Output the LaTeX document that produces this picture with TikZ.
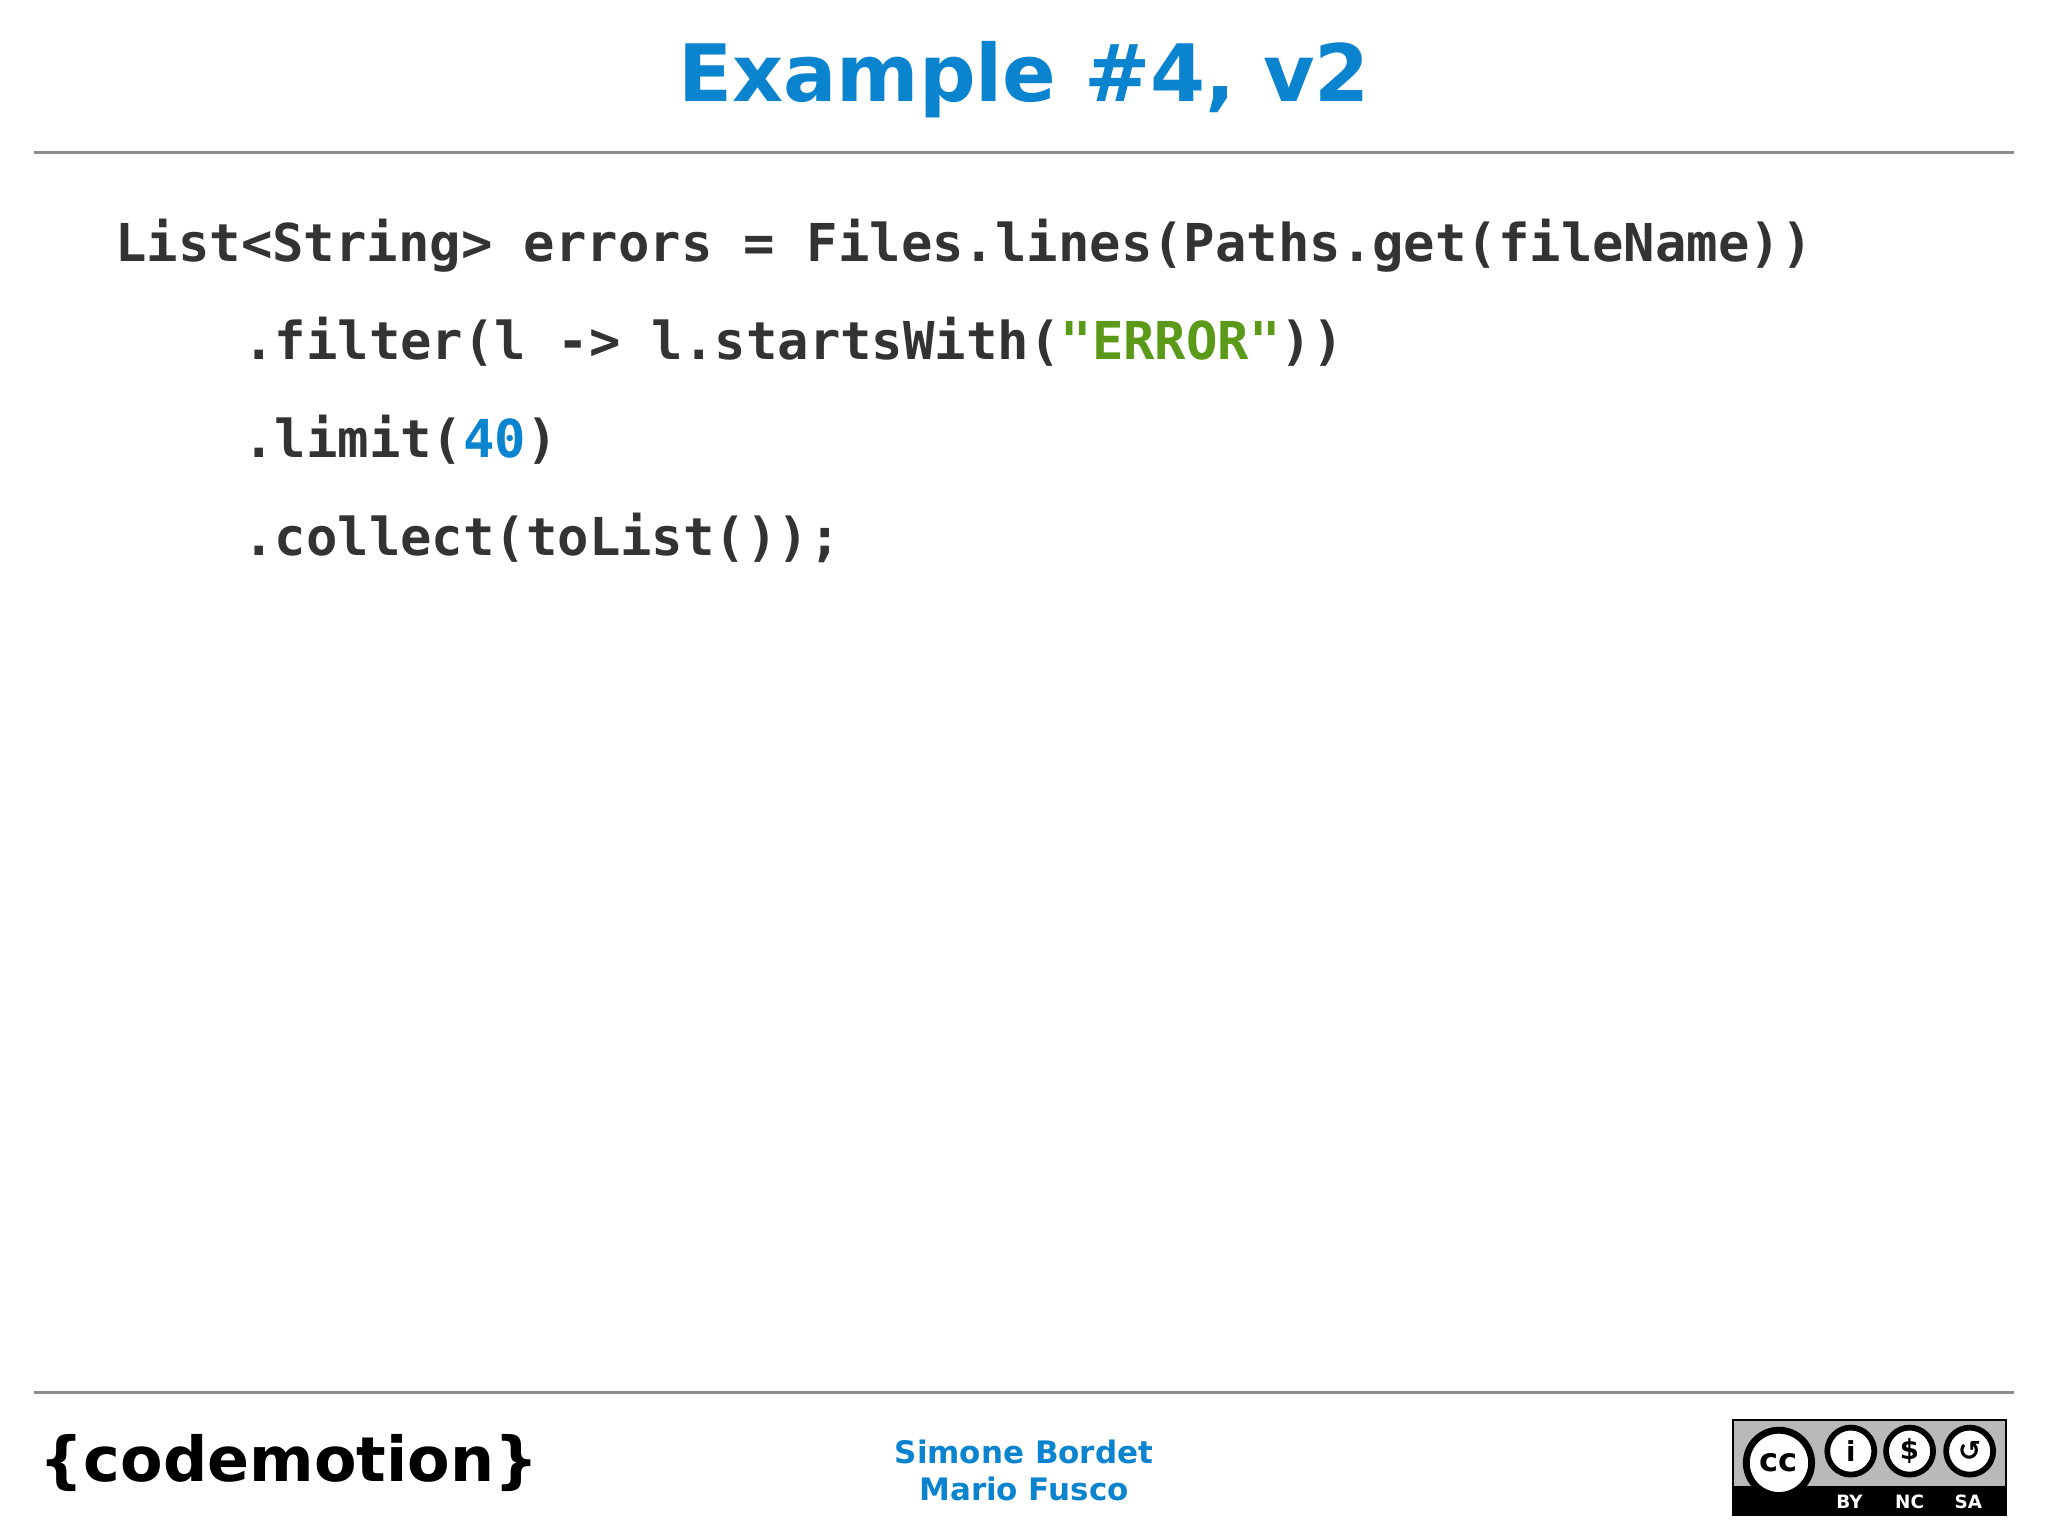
\documentclass[tikz,border=0pt]{standalone}
\usepackage{fontspec}
\setmainfont{DejaVu Sans}
\newfontfamily\codefont{DejaVu Sans Mono}
\definecolor{tblue}{HTML}{0A84CF}
\definecolor{code}{HTML}{333333}
\definecolor{strg}{HTML}{5A9A18}
\begin{document}
\begin{tikzpicture}[x=0.02cm,y=-0.02cm,
  codeline/.style={anchor=base west,inner sep=0,text=code,font=\codefont\bfseries\fontsize{22.75}{28}\selectfont},
  foot/.style={text=tblue,font=\bfseries\fontsize{13.5}{16}\selectfont,inner sep=0},
  rule/.style={draw=gray!90,line width=1.2pt},
  badge/.style={circle,draw=black,line width=2.5pt,fill=white,minimum size=0.72cm,inner sep=0,font=\bfseries\fontsize{12}{12}\selectfont},
  badgetxt/.style={text=white,font=\bfseries\fontsize{8}{8}\selectfont,inner sep=0}]
\useasboundingbox (0,0) rectangle (1568,1176);
\node[text=tblue,font=\bfseries\fontsize{34.5}{40}\selectfont,inner sep=0] (title) at (784,61) {Example \#4, v2};
\coordinate (t1) at (26,117); \coordinate (t2) at (1542,117);
\draw[rule] (t1) -- (t2);
\node[codeline] (c1) at (88,200) {List<String> errors = Files.lines(Paths.get(fileName))};
\node[codeline] (c2) at (186,275) {.filter(l -> l.startsWith(\textcolor{strg}{"ERROR"}))};
\node[codeline] (c3) at (186,350) {.limit(\textcolor{tblue}{40})};
\node[codeline] (c4) at (186,425) {.collect(toList());};
\coordinate (b1) at (26,1066); \coordinate (b2) at (1542,1066);
\draw[rule] (b1) -- (b2);
\node[foot] (n1) at (784,1112) {Simone Bordet};
\node[foot] (n2) at (784,1140) {Mario Fusco};
\node[inner sep=0,anchor=west,font=\bfseries\fontsize{27}{32}\selectfont] (logo) at (30,1120) {\{codemotion\}};
% CC badge
\draw[fill=gray!55,draw=black,line width=0.8pt] (1327,1087) rectangle (1536,1160);
\fill[black] (1327,1138) rectangle (1536,1160);
\node[circle,draw=black,line width=3pt,fill=white,minimum size=1.0cm,inner sep=0,font=\bfseries\fontsize{14}{14}\selectfont] (cc) at (1362,1120) {cc};
\node[badge] (by) at (1417,1111) {i};
\node[badge] (nc) at (1462,1111) {\$};
\node[badge] (sa) at (1508,1111) {↺};
\node[badgetxt] (tby) at (1416,1150) {BY};
\node[badgetxt] (tnc) at (1462,1150) {NC};
\node[badgetxt] (tsa) at (1507,1150) {SA};
\end{tikzpicture}
\end{document}
